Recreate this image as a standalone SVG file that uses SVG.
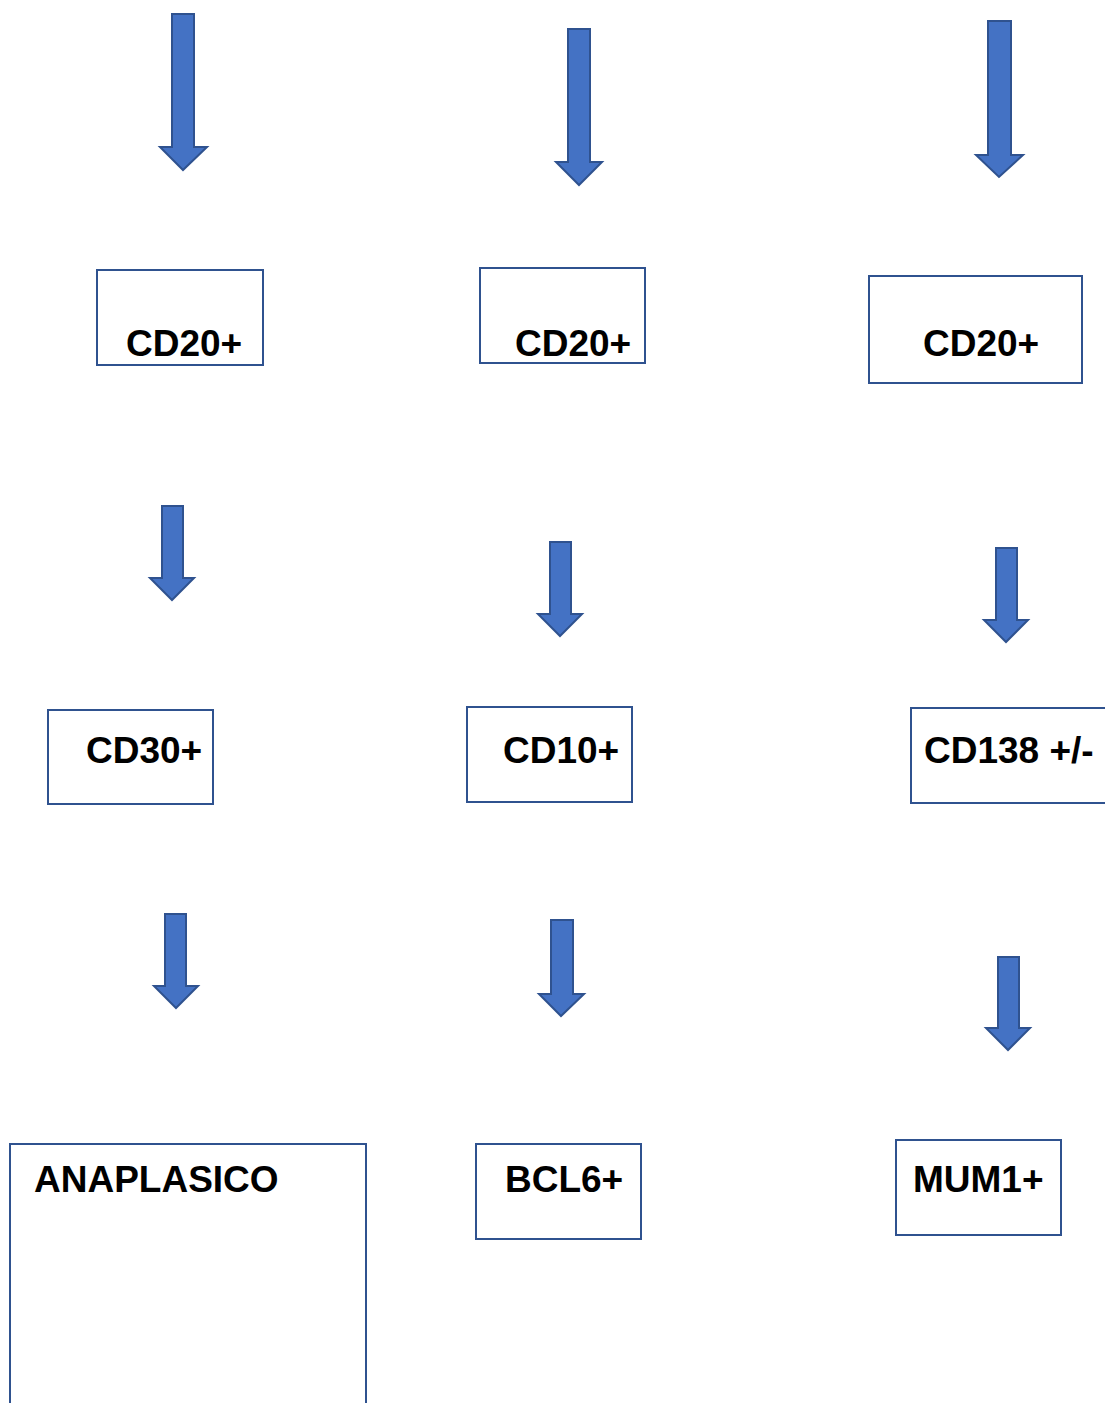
<svg xmlns="http://www.w3.org/2000/svg" width="1105" height="1403" viewBox="0 0 1105 1403">
<style>
.box{fill:#fff;stroke:#2F528F;stroke-width:2}
.arr{fill:#4472C4;stroke:#2F528F;stroke-width:2;stroke-linejoin:miter}
.lbl{font-family:"Liberation Sans",Arial,sans-serif;font-weight:bold;font-size:37px;fill:#000}
</style>
<rect width="1105" height="1403" fill="#fff"/>
<g id="connectors">
<path class="arr" d="M172,14 H194 V147 H207 L183,170 L160,147 H172 Z"/>
<path class="arr" d="M568,29 H590 V162 H602 L579,185 L556,162 H568 Z"/>
<path class="arr" d="M988,21 H1011 V155 H1023 L999,177 L976,155 H988 Z"/>
<path class="arr" d="M162,506 H183 V578 H194 L172,600 L150,578 H162 Z"/>
<path class="arr" d="M550,542 H571 V614 H582 L560,636 L538,614 H550 Z"/>
<path class="arr" d="M996,548 H1017 V620 H1028 L1006,642 L984,620 H996 Z"/>
<path class="arr" d="M165,914 H186 V986 H198 L176,1008 L154,986 H165 Z"/>
<path class="arr" d="M551,920 H573 V994 H584 L561,1016 L539,994 H551 Z"/>
<path class="arr" d="M998,957 H1019 V1028 H1030 L1008,1050 L986,1028 H998 Z"/>
</g>
<g id="n1"><rect class="box" x="97" y="270" width="166" height="95"/><text class="lbl" x="126" y="356">CD20+</text></g>
<g id="n2"><rect class="box" x="480" y="268" width="165" height="95"/><text class="lbl" x="515" y="356">CD20+</text></g>
<g id="n3"><rect class="box" x="869" y="276" width="213" height="107"/><text class="lbl" x="923" y="356">CD20+</text></g>
<g id="n4"><rect class="box" x="48" y="710" width="165" height="94"/><text class="lbl" x="86" y="763">CD30+</text></g>
<g id="n5"><rect class="box" x="467" y="707" width="165" height="95"/><text class="lbl" x="503" y="763">CD10+</text></g>
<g id="n6"><rect class="box" x="911" y="708" width="200" height="95"/><text class="lbl" x="924" y="763">CD138 +/-</text></g>
<g id="n7"><rect class="box" x="10" y="1144" width="356" height="270"/><text class="lbl" x="34" y="1192">ANAPLASICO</text></g>
<g id="n8"><rect class="box" x="476" y="1144" width="165" height="95"/><text class="lbl" x="505" y="1192">BCL6+</text></g>
<g id="n9"><rect class="box" x="896" y="1140" width="165" height="95"/><text class="lbl" x="913" y="1192">MUM1+</text></g>
</svg>
